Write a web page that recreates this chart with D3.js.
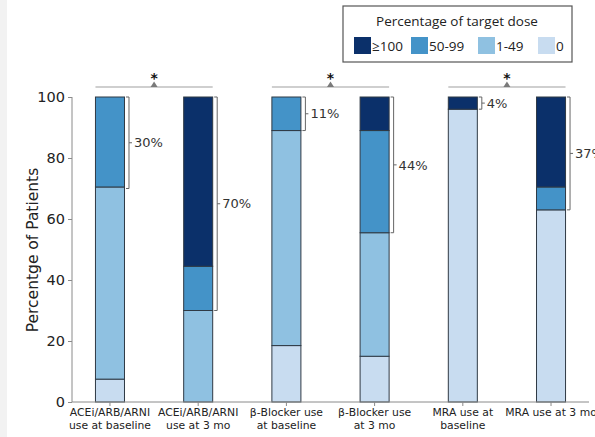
<!DOCTYPE html>
<html><head><meta charset="utf-8">
<script src="https://cdn.jsdelivr.net/npm/d3@7"></script>
<style>body{margin:0;background:#fff}svg{display:block}</style>
</head><body>
<svg id="c" width="595" height="437"></svg>
<script>
const categories = [
  ["ACEi/ARB/ARNI","use at baseline"],
  ["ACEi/ARB/ARNI","use at 3 mo"],
  ["\u03b2-Blocker use","at baseline"],
  ["\u03b2-Blocker use","at 3 mo"],
  ["MRA use at","baseline"],
  ["MRA use at 3 mo",""]
];
const seriesNames = ["0","1-49","50-99","\u2265100"];
const p0     = [7.5, 0,    18.5, 15,   96, 63];
const p1_49  = [63,  30,   70.5, 40.5, 0,  0];
const p50_99 = [29.5,14.5, 11,   33.5, 0,  7.5];
const p100   = [0,   55.5, 0,    11,   4,  29.5];
const bracketLabels = ["30%","70%","11%","44%","4%","37%"];
const bracketFrom   = [70, 30, 89, 55.5, 96, 63];
const yTicks = [0,20,40,60,80,100];
const legendOrder = ["\u2265100","50-99","1-49","0"];
const sigPairs = [[0,1],[2,3],[4,5]];

const colors = {"0":"#c8dcf0","1-49":"#8fc1e1","50-99":"#4493c8","\u2265100":"#0b306a"};
const svg = d3.select("#c");
svg.append("rect").attr("x",0).attr("y",0).attr("width",7).attr("height",437).attr("fill","#f2f2f2");

const ids = categories.map((d,i)=>i);
const x = d3.scaleBand().domain(ids).range([72,589]).paddingInner(0.671).paddingOuter(0.266);
const y = d3.scaleLinear().domain([0,100]).range([402,97]);

const rows = ids.map(i=>({i, "0":p0[i], "1-49":p1_49[i], "50-99":p50_99[i], "\u2265100":p100[i]}));
const stack = d3.stack().keys(seriesNames)(rows);

svg.append("g").selectAll("g").data(stack).join("g")
  .attr("fill",d=>colors[d.key])
  .selectAll("rect").data(d=>d.filter(s=>s[1]-s[0]>0)).join("rect")
  .attr("x",d=>x(d.data.i)).attr("width",x.bandwidth())
  .attr("y",d=>y(d[1])).attr("height",d=>y(d[0])-y(d[1]))
  .attr("stroke","#2f3a45").attr("stroke-width",1);

// axes
const axisColor = "#8a8a8a";
const yAxis = svg.append("g").attr("transform","translate(72,0)")
  .call(d3.axisLeft(y).tickValues(yTicks).tickSize(4).tickPadding(3));
yAxis.select(".domain").attr("stroke",axisColor).attr("d","M0,"+y(100)+"V"+y(0));
yAxis.selectAll(".tick line").attr("stroke",axisColor);
yAxis.selectAll("text").attr("font-family","DejaVu Sans").attr("font-size",14.5).attr("fill","#222");

const xAxis = svg.append("g").attr("transform","translate(0,402)")
  .call(d3.axisBottom(x).tickSize(4).tickFormat(""));
xAxis.select(".domain").attr("stroke",axisColor).attr("d","M72,0H589");
xAxis.selectAll(".tick line").attr("stroke",axisColor);
xAxis.selectAll(".tick").each(function(d){
  const t = d3.select(this).append("text").attr("fill","#222")
    .attr("font-family","DejaVu Sans").attr("font-size",10.8).attr("text-anchor","middle");
  categories[d].forEach((line,k)=>{
    t.append("tspan").attr("x",0).attr("y",14+k*12.5).text(line);
  });
});

svg.append("text").attr("transform","translate(38,250) rotate(-90)")
  .attr("text-anchor","middle").attr("font-family","DejaVu Sans").attr("font-size",15.5)
  .attr("fill","#222").text("Percentge of Patients");

// brackets
const br = svg.append("g");
ids.forEach(i=>{
  const bx = x(i)+x.bandwidth()+4.5;
  const yt = y(100), yb = y(bracketFrom[i]), ym = (yt+yb)/2;
  br.append("path").attr("fill","none").attr("stroke","#666").attr("stroke-width",1)
    .attr("d",`M${bx-3},${yt}H${bx}V${yb}H${bx-3}M${bx},${ym}H${bx+3}`);
  br.append("text").attr("x",bx+5).attr("y",ym).attr("dy","0.36em")
    .attr("font-family","DejaVu Sans").attr("font-size",13).attr("fill","#333")
    .text(bracketLabels[i]);
});

// significance
const sg = svg.append("g");
sigPairs.forEach(([a,b])=>{
  const x1 = x(a), x2 = x(b)+x.bandwidth(), cx=(x1+x2)/2, ly=87;
  sg.append("line").attr("x1",x1).attr("x2",x2).attr("y1",ly).attr("y2",ly)
    .attr("stroke","#a0a0a0").attr("stroke-width",1.2);
  sg.append("path").attr("d",`M${cx-3.5},${ly}L${cx},${ly-5.5}L${cx+3.5},${ly}Z`).attr("fill","#7a7a7a");
  sg.append("text").attr("x",cx).attr("y",ly-4).attr("text-anchor","middle")
    .attr("font-family","DejaVu Sans").attr("font-size",14).attr("font-weight","bold").attr("fill","#111").text("*");
});

// legend
const lg = svg.append("g");
lg.append("rect").attr("x",343).attr("y",6).attr("width",229).attr("height",56)
  .attr("fill","#fff").attr("stroke","#555").attr("stroke-width",1.2);
lg.append("text").attr("x",457).attr("y",26).attr("text-anchor","middle")
  .attr("font-family","Open Sans").attr("font-size",13.5).attr("fill","#222").text("Percentage of target dose");
const lx = [354,411,478,538];
legendOrder.forEach((k,j)=>{
  lg.append("rect").attr("x",lx[j]).attr("y",37).attr("width",17).attr("height",17).attr("fill",colors[k]);
  lg.append("text").attr("x",lx[j]+18).attr("y",51).attr("font-family","Open Sans")
    .attr("font-size",13.5).attr("fill","#222").text(k);
});
</script>
</body></html>
